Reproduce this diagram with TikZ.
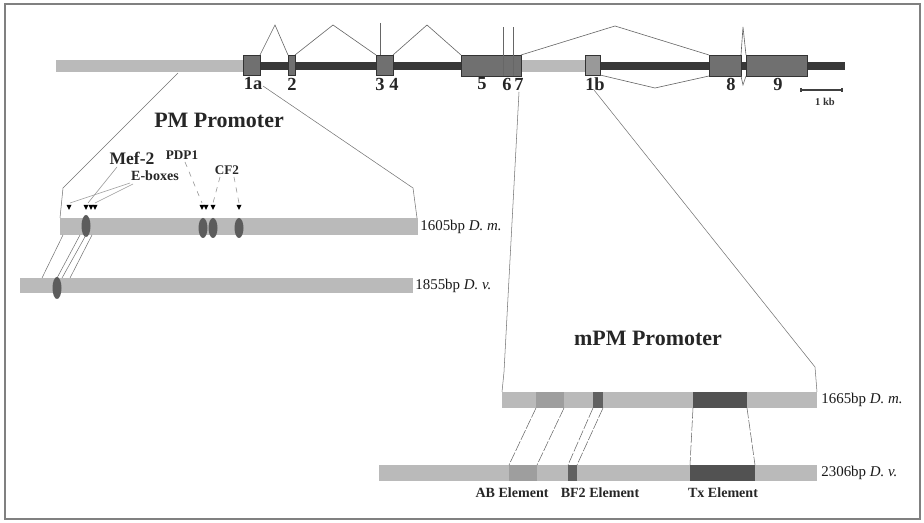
\documentclass[tikz,border=0pt]{standalone}
\usepackage{fontspec}
\setmainfont{Liberation Serif}
\usetikzlibrary{positioning}

\tikzset{
  lightbar/.style={fill=black!27,draw=none},
  darkbar/.style={fill=black!78,draw=none},
  exon/.style={fill=black!56,draw=black!80,line width=0.5pt},
  intron/.style={black!60,line width=0.35pt},
  zoomline/.style={black!55,line width=0.3pt},
  pointer/.style={black!40,line width=0.35pt},
  linkline/.style={black!60,line width=0.3pt,dash pattern=on 6pt off 1pt},
  oval/.style={fill=black!64},
  num/.style={font=\bfseries\fontsize{10.5}{11}\selectfont,inner sep=0pt,text=black!85},
  title/.style={font=\bfseries\fontsize{12.5}{13}\selectfont,inner sep=0pt,text=black!85},
  tag/.style={font=\bfseries\fontsize{8}{9}\selectfont,inner sep=0pt,text=black!85},
  bplabel/.style={font=\fontsize{8.5}{9}\selectfont,anchor=west,inner sep=0pt,text=black!90}
}

\begin{document}
\begin{tikzpicture}[x=0.02cm,y=-0.02cm]
  \useasboundingbox (0,0) rectangle (924,523);
  \draw[black!50,line width=1.4pt] (5,4) rectangle (920,519);

  % gene
  \fill[lightbar] (56,60) rectangle (243,72);
  \fill[darkbar] (243,62) rectangle (845,70);
  \fill[lightbar] (521,60) rectangle (585,72);
  \draw[exon] (243,55) rectangle (260,75);
  \draw[exon] (288,55) rectangle (295,75);
  \draw[exon] (376,55) rectangle (393,75);
  \draw[intron] (380,23) -- (380,55);
  \draw[exon] (461,55) rectangle (521,76);
  \draw[intron] (503,76) -- (503,27) (513,76) -- (513,27);
  \draw[exon,fill=black!40] (585,55) rectangle (600,75);
  \draw[exon] (709,55) rectangle (741,76);
  \draw[exon] (746,55) rectangle (807,76);

  \draw[intron] (260,55) -- (275,25) -- (288,55);
  \draw[intron] (295,55) -- (333,25) -- (376,55);
  \draw[intron] (393,55) -- (427,25) -- (461,55);
  \draw[intron] (521,55) -- (615,26) -- (709,55);
  \draw[intron] (600,75) -- (655,88) -- (709,76);
  \draw[intron] (741,55) -- (743,27) -- (746,55);
  \draw[intron] (741,76) -- (743,85) -- (746,76);

  \node[num] (e1a) at (253,84) {1a};
  \node[num] (e2) at (292,84) {2};
  \node[num] (e3) at (380,84) {3};
  \node[num] (e4) at (394,84) {4};
  \node[num] (e5) at (482,84) {5};
  \node[num] (e6) at (507,84) {6};
  \node[num] (e7) at (519,84) {7};
  \node[num] (e1b) at (595,84) {1b};
  \node[num] (e8) at (731,84) {8};
  \node[num] (e9) at (778,84) {9};

  \draw[black!75,line width=0.6pt] (801,90) -- (842,90)
    (801,88) -- (801,92) (842,88) -- (842,92);
  \node[font=\bfseries\fontsize{6}{6}\selectfont,inner sep=0pt,text=black!80] (kb) at (825,102) {1 kb};

  % PM promoter
  \node[title] (pm) at (219,120) {PM Promoter};
  \draw[zoomline] (178,73) -- (63,188) -- (60,218);
  \draw[zoomline] (263,86) -- (413,188) -- (417,218);

  \fill[lightbar] (60,218) rectangle (418,235);
  \node[bplabel] (pmdm) at (420,227) {1605bp \textit{D. m.}};
  \foreach \ox/\oy/\ry in {86/226/11, 203/228/10, 213/228/10, 239/228/10}
    \fill[oval] (\ox,\oy) ellipse [x radius=4.5, y radius=\ry];
  \foreach \tx in {69,86,91,95,202,206,213,239}
    \fill[black] (\tx-2.5,205) -- (\tx+2.5,205) -- (\tx,210) -- cycle;

  \node[tag,font=\bfseries\fontsize{10}{10}\selectfont] (mef) at (132,158) {Mef-2};
  \node[tag] (ebox) at (155,176) {E-boxes};
  \node[tag,font=\bfseries\fontsize{7.5}{8}\selectfont] (pdp) at (182,155) {PDP1};
  \node[tag,font=\bfseries\fontsize{7.5}{8}\selectfont] (cf) at (227,170) {CF2};
  \draw[pointer] (117,167) -- (88,203);
  \draw[pointer] (130,183) -- (70,203);
  \draw[pointer] (133,184) -- (95,203);
  \draw[pointer,dashed] (185,162) -- (202,203);
  \draw[pointer,dashed] (220,177) -- (213,203);
  \draw[pointer,dashed] (234,177) -- (239,203);

  \foreach \ax/\bx in {63/42, 80/57, 86/62, 92/70}
    \draw[zoomline] (\ax,235) -- (\bx,278);

  \fill[lightbar] (20,278) rectangle (413,293);
  \fill[oval] (57,288) ellipse [x radius=4.5, y radius=11];
  \node[bplabel] (pmdv) at (415,286) {1855bp \textit{D. v.}};

  % mPM promoter
  \node[title] (mpm) at (648,338) {mPM Promoter};
  \draw[zoomline] (519,92) -- (504,372) -- (502,392);
  \draw[zoomline] (594,90) -- (815,367) -- (817,392);

  \fill[lightbar] (502,392) rectangle (817,408);
  \fill[black!38] (536,392) rectangle (564,408);
  \fill[black!62] (593,392) rectangle (603,408);
  \fill[black!68] (693,392) rectangle (747,408);
  \node[bplabel] (mdm) at (821,400) {1665bp \textit{D. m.}};

  \fill[lightbar] (379,465) rectangle (817,481);
  \fill[black!38] (509,465) rectangle (537,481);
  \fill[black!62] (568,465) rectangle (577,481);
  \fill[black!68] (690,465) rectangle (755,481);
  \node[bplabel] (mdv) at (821,473) {2306bp \textit{D. v.}};

  \draw[linkline] (536,408) -- (509,465) (564,408) -- (537,465);
  \draw[linkline] (593,408) -- (568,465) (603,408) -- (577,465);
  \draw[linkline] (693,408) -- (690,465) (747,408) -- (755,465);

  \node[tag] (ab) at (512,493) {AB Element};
  \node[tag] (bf) at (600,493) {BF2 Element};
  \node[tag] (tx) at (723,493) {Tx Element};
\end{tikzpicture}
\end{document}
